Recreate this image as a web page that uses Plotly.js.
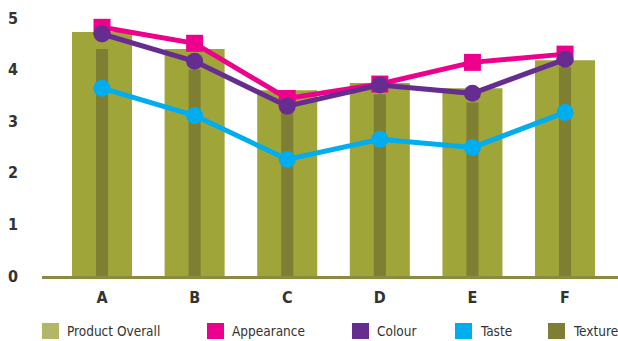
<!DOCTYPE html>
<html>
<head>
<meta charset="utf-8">
<script src="https://cdn.plot.ly/plotly-3.0.1.min.js"></script>
<style>
  html, body { margin: 0; padding: 0; background: #fff; }
  #chart { width: 618px; height: 341px; }
</style>
</head>
<body>
<div id="chart"></div>
<script>
// Sensory scores per product (0–5 scale)
const categories = ['A', 'B', 'C', 'D', 'E', 'F'];
const productOverall = [4.73, 4.40, 3.60, 3.74, 3.64, 4.18];
const texture = [4.40, 4.00, 3.60, 3.52, 3.36, 4.05];
const appearance = [4.82, 4.51, 3.44, 3.72, 4.14, 4.30];
const colour = [4.69, 4.16, 3.29, 3.70, 3.54, 4.20];
const taste = [3.64, 3.11, 2.26, 2.65, 2.49, 3.17];
const yTicks = [0, 1, 2, 3, 4, 5];

const seriesNames = ['Product Overall', 'Appearance', 'Colour', 'Taste', 'Texture'];

const COLORS = {
  overall: '#9FA538',
  overallKey: '#B3B666',
  appearance: '#EC008C',
  colour: '#662D91',
  taste: '#00AEEF',
  texture: '#7F7F33',
  axis: '#8A8B40',
  text: '#333333'
};

const FONT = '"Liberation Sans Narrow", "DejaVu Sans Condensed", "Arial Narrow", sans-serif';

function lineTrace(name, values, color, symbol, size) {
  return {
    type: 'scatter', mode: 'lines+markers', name: name,
    x: categories, y: values,
    line: { color: color, width: 5 },
    marker: { color: color, symbol: symbol, size: size },
    showlegend: false, hoverinfo: 'skip'
  };
}

const traces = [
  { type: 'bar', name: 'Product Overall', x: categories, y: productOverall,
    width: 0.648, marker: { color: COLORS.overall }, showlegend: false, hoverinfo: 'skip' },
  { type: 'bar', name: 'Texture', x: categories, y: texture,
    width: 0.13, marker: { color: COLORS.texture }, showlegend: false, hoverinfo: 'skip' },
  lineTrace('Appearance', appearance, COLORS.appearance, 'square', 17),
  lineTrace('Colour', colour, COLORS.colour, 'circle', 17),
  lineTrace('Taste', taste, COLORS.taste, 'circle', 17)
];

const W = 618, H = 341;
const margin = { l: 42, r: 0, t: 18, b: 65 };
const pw = W - margin.l - margin.r, ph = H - margin.t - margin.b;
// pixel position on the page -> plot-area fraction
const fx = px => (px - margin.l) / pw;
const fy = py => (H - py - margin.b) / ph;

// Key along the bottom: square swatch + label per series
const keyColors = [COLORS.overallKey, COLORS.appearance, COLORS.colour, COLORS.taste, COLORS.texture];
const keySwatchX = [42, 207, 352, 455, 548];
const keyY = 331;
const shapes = [];
const annotations = [];
seriesNames.forEach((name, i) => {
  const x0 = keySwatchX[i];
  shapes.push({
    type: 'rect', xref: 'paper', yref: 'paper',
    x0: fx(x0), x1: fx(x0 + 17), y0: fy(keyY + 8), y1: fy(keyY - 8),
    fillcolor: keyColors[i], line: { width: 0 }
  });
  annotations.push({
    xref: 'paper', yref: 'paper', x: fx(x0 + 23), y: fy(keyY),
    xanchor: 'left', yanchor: 'middle', showarrow: false,
    text: name, font: { family: FONT, size: 13.5, color: COLORS.text }
  });
});

const layout = {
  width: W, height: H,
  margin: margin,
  paper_bgcolor: '#fff', plot_bgcolor: '#fff',
  barmode: 'overlay',
  showlegend: false,
  xaxis: {
    type: 'category', range: [-0.648, 5.572],
    showgrid: false, zeroline: false,
    showline: true, linecolor: COLORS.axis, linewidth: 3,
    ticks: '', ticklabelstandoff: 5,
    tickfont: { family: FONT, size: 16, color: COLORS.text, weight: 'bold' }
  },
  yaxis: {
    range: [0, 5], tickvals: yTicks, ticktext: yTicks.map(String),
    showgrid: false, zeroline: false, showline: false,
    ticks: '', ticklabelstandoff: 23,
    tickfont: { family: FONT, size: 16, color: COLORS.text, weight: 'bold' }
  },
  shapes: shapes,
  annotations: annotations
};

Plotly.newPlot('chart', traces, layout, { staticPlot: true, displayModeBar: false });
</script>
</body>
</html>
